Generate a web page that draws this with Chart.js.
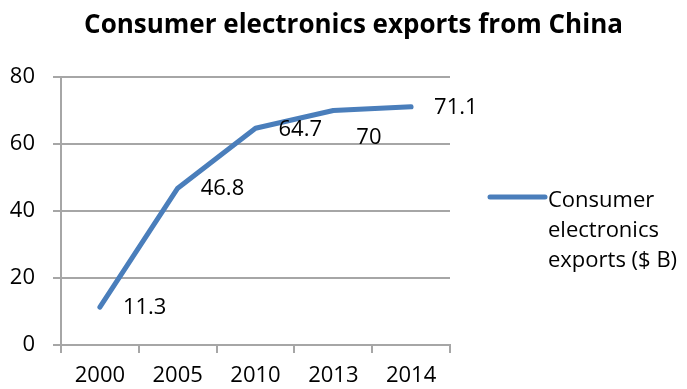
<!DOCTYPE html>
<html>
<head>
<meta charset="utf-8">
<title>Consumer electronics exports from China</title>
<script src="https://cdn.jsdelivr.net/npm/chart.js@4/dist/chart.umd.min.js"></script>
<style>
  html, body { margin: 0; padding: 0; background: #fff; }
  #wrap { width: 687px; height: 389px; position: relative; }
</style>
</head>
<body>
<div id="wrap"><canvas id="exportsChart"></canvas></div>
<script>
const chartTitle = 'Consumer electronics exports from China';
const seriesName = 'Consumer electronics exports ($ B)';
const years = ['2000', '2005', '2010', '2013', '2014'];
const exportsBn = [11.3, 46.8, 64.7, 70, 71.1];
const yMin = 0;
const yMax = 80;
const yStep = 20;

const FONT = '"Open Sans", "Liberation Sans", sans-serif';
const lineBlue = '#4A7EBB';
const axisGray = '#A6A6A6';

// title, legend on the right, and the value labels next to each point
const decorations = {
    id: 'decorations',
    afterDatasetsDraw(chart, args, opts) {
        const ctx = chart.ctx;
        const meta = chart.getDatasetMeta(0);
        const values = chart.data.datasets[0].data;
        ctx.save();
        ctx.font = '22px ' + FONT;
        ctx.fillStyle = '#000';
        ctx.textAlign = 'left';
        ctx.textBaseline = 'middle';
        meta.data.forEach((pt, i) => {
            const dy = opts.labelDrop[i] || 0;
            ctx.fillText(String(values[i]), pt.x + 23, pt.y + dy + 1);
        });
        ctx.restore();
    },
    afterDraw(chart, args, opts) {
        const ctx = chart.ctx;
        const area = chart.chartArea;
        const ds = chart.data.datasets[0];
        ctx.save();

        // title
        ctx.font = 'bold 26px ' + FONT;
        ctx.fillStyle = '#000';
        ctx.textAlign = 'center';
        ctx.textBaseline = 'alphabetic';
        ctx.fillText(opts.title, chart.width / 2 + 10, 33);

        // legend: line sample plus wrapped series name
        const lx = area.right + 40;
        const ly = area.top + 120;
        ctx.strokeStyle = ds.borderColor;
        ctx.lineWidth = 5;
        ctx.lineCap = 'round';
        ctx.beginPath();
        ctx.moveTo(lx, ly);
        ctx.lineTo(lx + 55, ly);
        ctx.stroke();

        ctx.font = '22px ' + FONT;
        ctx.textAlign = 'left';
        const tx = lx + 58;
        const maxW = chart.width - tx - 2;
        const lines = [];
        let cur = '';
        ds.label.split(' ').forEach(w => {
            const test = cur ? cur + ' ' + w : w;
            if (cur && ctx.measureText(test).width > maxW) {
                lines.push(cur);
                cur = w;
            } else {
                cur = test;
            }
        });
        if (cur) lines.push(cur);
        lines.forEach((line, i) => {
            ctx.fillText(line, tx, ly + 10 + i * 30);
        });
        ctx.restore();
    }
};

const ctx = document.getElementById('exportsChart').getContext('2d');
const chart = new Chart(ctx, {
    type: 'line',
    data: {
        labels: years,
        datasets: [{
            label: seriesName,
            data: exportsBn,
            borderColor: lineBlue,
            backgroundColor: lineBlue,
            borderWidth: 5,
            borderCapStyle: 'round',
            borderJoinStyle: 'round',
            pointRadius: 0,
            pointHoverRadius: 0,
            tension: 0,
            fill: false
        }]
    },
    options: {
        responsive: true,
        maintainAspectRatio: false,
        animation: false,
        events: [],
        layout: {
            autoPadding: false,
            padding: { top: 77, left: 10, right: 237, bottom: 0 }
        },
        plugins: {
            legend: { display: false },
            title: { display: false },
            tooltip: { enabled: false },
            decorations: {
                title: chartTitle,
                labelDrop: [0, 0, 0, 26, 0]
            }
        },
        scales: {
            x: {
                type: 'category',
                offset: true,
                afterFit: scale => { scale.height = 44; },
                grid: {
                    offset: true,
                    drawOnChartArea: false,
                    drawTicks: true,
                    tickLength: 8,
                    color: axisGray,
                    lineWidth: 2
                },
                border: { color: axisGray, width: 2 },
                ticks: {
                    color: '#000',
                    padding: 10,
                    maxRotation: 0,
                    font: { family: FONT, size: 22 }
                }
            },
            y: {
                min: yMin,
                max: yMax,
                afterFit: scale => { scale.width = 51; },
                grid: {
                    drawOnChartArea: true,
                    drawTicks: true,
                    tickLength: 8,
                    color: axisGray,
                    lineWidth: 2
                },
                border: { color: axisGray, width: 2 },
                ticks: {
                    stepSize: yStep,
                    color: '#000',
                    padding: 18,
                    font: { family: FONT, size: 22 }
                }
            }
        }
    },
    plugins: [decorations]
});
</script>
</body>
</html>
